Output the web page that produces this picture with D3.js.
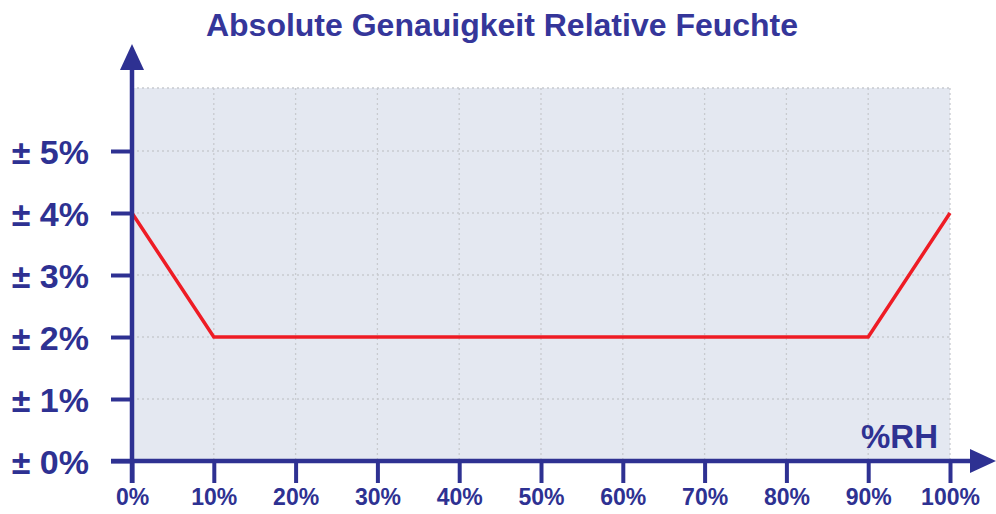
<!DOCTYPE html>
<html>
<head>
<meta charset="utf-8">
<script src="https://cdn.jsdelivr.net/npm/d3@7"></script>
<style>
  body { margin: 0; background: #fff; }
  text { font-family: "Liberation Sans", Arial, sans-serif; font-weight: bold; }
</style>
</head>
<body>
<svg id="chart" width="996" height="514"></svg>
<script>
// data
var rhValues = [0, 10, 90, 100];
var accuracy = [4, 2, 2, 4];
var xTicks = [0, 10, 20, 30, 40, 50, 60, 70, 80, 90, 100];
var yTicks = [0, 1, 2, 3, 4, 5];

var svg = d3.select("#chart");
var width = +svg.attr("width"), height = +svg.attr("height");

var navy = "#2e3192";
var fontFam = "Liberation Sans, Arial, sans-serif";
var plotLeft = 132, plotRight = 950, plotBottom = 461, plotTop = 88;

var xScale = d3.scaleLinear().domain([0, 100]).range([plotLeft, plotRight]);
var yScale = d3.scaleLinear().domain([0, 6]).range([plotBottom, plotBottom - 6 * 62]);

// plot background
svg.append("rect")
  .attr("x", plotLeft).attr("y", plotTop)
  .attr("width", plotRight - plotLeft).attr("height", plotBottom - plotTop)
  .attr("fill", "#e4e8f1");

// grid
var grid = svg.append("g").attr("stroke", "#c8cacf").attr("stroke-width", 1.3)
  .attr("stroke-dasharray", "2,3");
grid.selectAll(".vg").data(xTicks.slice(1)).enter().append("line")
  .attr("x1", d => xScale(d)).attr("x2", d => xScale(d))
  .attr("y1", plotTop).attr("y2", plotBottom);
grid.selectAll(".hg").data(yTicks.slice(1)).enter().append("line")
  .attr("x1", plotLeft).attr("x2", plotRight)
  .attr("y1", d => yScale(d)).attr("y2", d => yScale(d));
grid.append("line").attr("x1", plotLeft).attr("x2", plotRight).attr("y1", plotTop).attr("y2", plotTop);

// line
var line = d3.line().x((d, i) => xScale(rhValues[i])).y(d => yScale(d));
svg.append("path")
  .datum(accuracy)
  .attr("d", line)
  .attr("fill", "none")
  .attr("stroke", "#ee1c25")
  .attr("stroke-width", 3.5);

// axes
var xAxis = d3.axisBottom(xScale).tickValues(xTicks).tickSize(22).tickPadding(6)
  .tickFormat(d => d + "%");
var gx = svg.append("g").attr("transform", "translate(0," + plotBottom + ")").call(xAxis);
gx.select(".domain").remove();
gx.selectAll("line").attr("stroke", navy).attr("stroke-width", 4);
gx.selectAll("text").attr("fill", navy).attr("font-size", 23).attr("font-family", fontFam);

var yAxis = d3.axisLeft(yScale).tickValues(yTicks).tickSize(21).tickPadding(22)
  .tickFormat(d => "± " + d + "%");
var gy = svg.append("g").attr("transform", "translate(" + plotLeft + ",0)").call(yAxis);
gy.select(".domain").remove();
gy.selectAll("line").attr("stroke", navy).attr("stroke-width", 4);
gy.selectAll("text").attr("fill", navy).attr("font-size", 34).attr("font-family", fontFam)
  .attr("dy", "0.36em");

// axis lines with arrows
svg.append("line").attr("x1", plotLeft).attr("x2", plotLeft).attr("y1", plotBottom + 22).attr("y2", 66)
  .attr("stroke", navy).attr("stroke-width", 4.5);
svg.append("path").attr("d", "M" + plotLeft + ",44 L" + (plotLeft - 12) + ",70 L" + (plotLeft + 12) + ",70 Z")
  .attr("fill", navy);
svg.append("line").attr("x1", plotLeft - 21).attr("x2", 974).attr("y1", plotBottom).attr("y2", plotBottom)
  .attr("stroke", navy).attr("stroke-width", 4.5);
svg.append("path").attr("d", "M996," + plotBottom + " L970," + (plotBottom - 12) + " L970," + (plotBottom + 12) + " Z")
  .attr("fill", navy);

// labels
svg.append("text").attr("x", 938).attr("y", 448).attr("text-anchor", "end")
  .attr("font-size", 33).attr("fill", navy).text("%RH");

svg.append("text").attr("x", 502).attr("y", 36).attr("text-anchor", "middle")
  .attr("font-size", 32).attr("fill", "#35369a").text("Absolute Genauigkeit Relative Feuchte");
</script>
</body>
</html>
